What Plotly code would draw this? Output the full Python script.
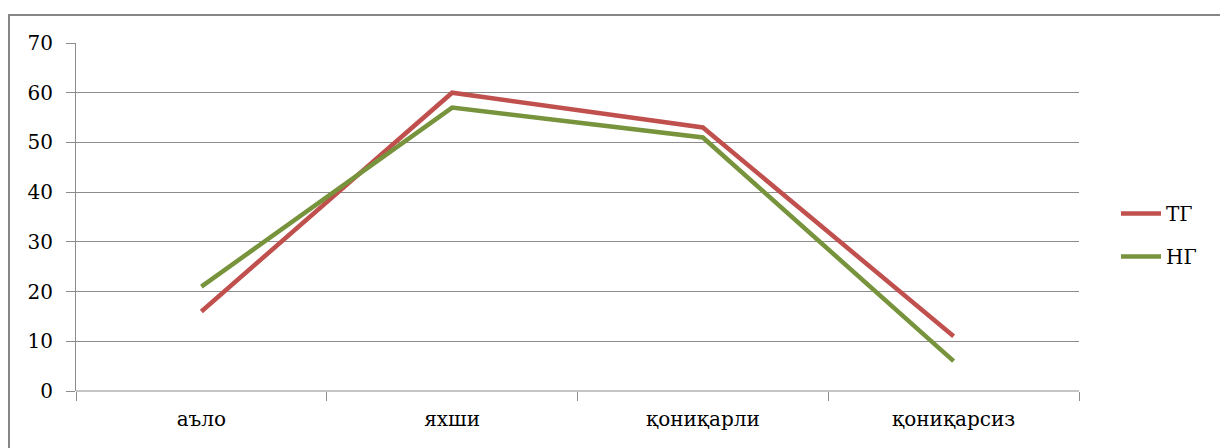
import plotly.graph_objects as go

categories = ["аъло", "яхши", "қониқарли", "қониқарсиз"]
tg_values = [16, 60, 53, 11]
ng_values = [21, 57, 51, 6]
series_names = ["ТГ", "НГ"]
y_ticks = [0, 10, 20, 30, 40, 50, 60, 70]

FONT = "DejaVu Serif"
GRID = "#8c8c8c"

fig = go.Figure()
fig.add_trace(go.Scatter(x=categories, y=tg_values, name=series_names[0], mode="lines",
                         legendgroup="a", line=dict(color="#C0504D", width=4.5)))
fig.add_trace(go.Scatter(x=categories, y=ng_values, name=series_names[1], mode="lines",
                         legendgroup="b", line=dict(color="#77933C", width=4.5)))

OFF = 8  # page body margin
L, T = 76 - OFF, 43 - OFF
W, H = 1228, 448
R = W - (1079 - OFF)
B = H - (391 - OFF)
pw = W - L - R
ph = H - T - B


def px_x(x):
    return (x - OFF - L) / pw


def px_y(y):
    return (H - B - (y - OFF)) / ph


fig.update_layout(
    width=W, height=H,
    margin=dict(l=L, r=R, t=T, b=B, pad=0),
    paper_bgcolor="white", plot_bgcolor="white",
    font=dict(family=FONT, size=20, color="black"),
    legend=dict(x=px_x(1116), y=px_y(235), xanchor="left", yanchor="middle",
                font=dict(family=FONT, size=20, color="black"),
                bgcolor="rgba(0,0,0,0)", itemwidth=40, traceorder="grouped", tracegroupgap=14),
    xaxis=dict(type="category", showgrid=False, showline=False, zeroline=False,
               ticks="outside", tickson="boundaries", ticklen=9, tickcolor=GRID, tickwidth=1,
               ticklabelstandoff=14, range=[-0.5, 3.5],
               tickfont=dict(family=FONT, size=20, color="black")),
    yaxis=dict(range=[0, 70], tickvals=y_ticks, showgrid=True, gridcolor=GRID, gridwidth=1,
               showline=True, linecolor=GRID, linewidth=1, zeroline=False,
               ticks="outside", ticklen=9, tickcolor=GRID, ticklabelstandoff=9,
               tickfont=dict(family=FONT, size=20, color="black")),
    shapes=[
        dict(type="rect", xref="paper", yref="paper",
             x0=px_x(9), x1=px_x(W + 30), y0=px_y(H + 30), y1=px_y(15),
             line=dict(color="#868686", width=2), layer="below"),
        dict(type="line", xref="paper", yref="paper", x0=0, x1=1, y0=0, y1=0,
             line=dict(color=GRID, width=1), layer="below"),
    ],
)
fig.write_html("out.html")
